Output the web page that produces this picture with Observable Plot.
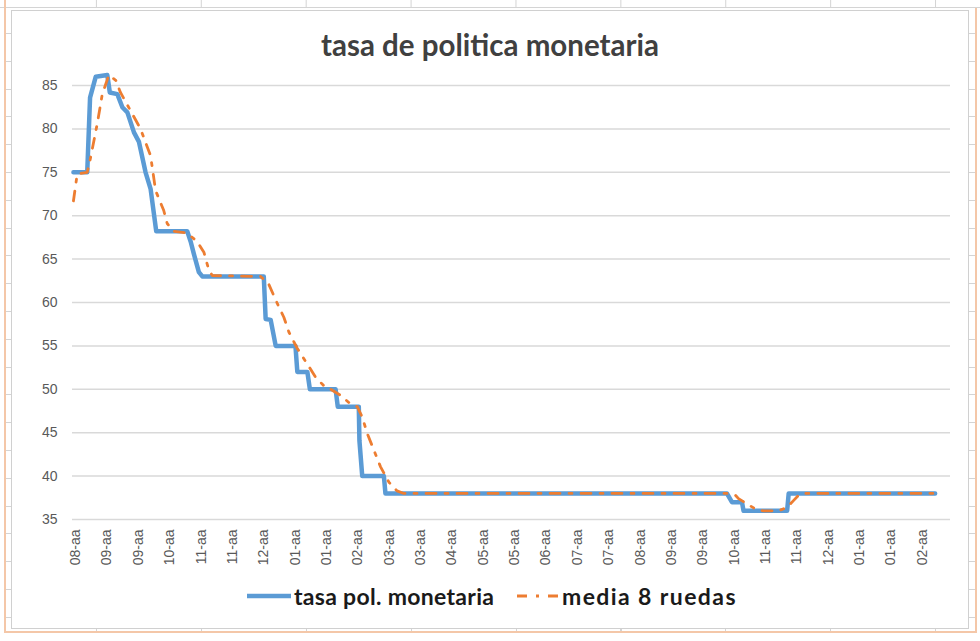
<!DOCTYPE html>
<html><head><meta charset="utf-8">
<script src="https://cdn.jsdelivr.net/npm/d3@7"></script>
<script src="https://cdn.jsdelivr.net/npm/@observablehq/plot@0.6"></script>
<style>
html,body{margin:0;padding:0;background:#fff;}
#page{position:relative;width:980px;height:641px;overflow:hidden;font-family:Lato,"Open Sans",sans-serif;background:#fff;}
.abs{position:absolute;}
#topline{left:0;top:7px;width:980px;height:1px;background:#d4d4d4;}
#topticks{left:0;top:0;width:980px;height:7px;background:repeating-linear-gradient(to right,transparent 0 96px,#d4d4d4 96px 97px,transparent 97px 104.9px);background-size:104.9px 7px;}
#lstrip{left:4px;top:10px;width:8px;height:618px;background:repeating-linear-gradient(to bottom,transparent 0 23px,#d4d4d4 23px 24px,transparent 24px 27.8px);}
#rstrip{left:968px;top:10px;width:8px;height:618px;background:repeating-linear-gradient(to bottom,transparent 0 23px,#d4d4d4 23px 24px,transparent 24px 27.8px);}
#btick{left:0;top:628px;width:980px;height:4px;background:repeating-linear-gradient(to right,transparent 0 96px,#d4d4d4 96px 97px,transparent 97px 104.9px);}
#oleft{left:4px;top:0;width:1.5px;height:633px;background:#f4c7a8;}
#oright{left:975px;top:8px;width:1.5px;height:625px;background:#f4c7a8;}
#obottom{left:4px;top:631px;width:972px;height:1.5px;background:#f4c7a8;}
#frame{left:11px;top:10px;width:956px;height:617px;border:1px solid #d0d0d0;background:#fff;}
#title{left:0;top:28px;width:980px;text-align:center;font-weight:700;font-size:29.5px;line-height:34px;color:#404040;}
#chart{left:0;top:60px;}
#legend{left:0;top:583px;width:980px;height:28px;}
.lg{position:absolute;top:-1px;font-weight:700;font-size:23px;line-height:28px;color:#1a1a1a;white-space:nowrap;}
</style></head><body>
<div id="page">
  <div id="topticks" class="abs"></div>
  <div id="topline" class="abs"></div>
  <div id="lstrip" class="abs"></div>
  <div id="rstrip" class="abs"></div>
  <div id="btick" class="abs"></div>
  <div id="oleft" class="abs"></div>
  <div id="oright" class="abs"></div>
  <div id="obottom" class="abs"></div>
  <div id="frame" class="abs"></div>
  <div id="title" class="abs">tasa de politica monetaria</div>
  <div id="chart" class="abs"></div>
  <div id="legend" class="abs">
    <svg class="abs" style="left:246px;top:6px" width="46" height="14"><line x1="1" y1="7" x2="45" y2="7" stroke="#5B9BD5" stroke-width="4.5"/></svg>
    <span class="lg" style="left:294px;letter-spacing:0.3px">tasa pol. monetaria</span>
    <svg class="abs" style="left:516px;top:6px" width="44" height="14"><line x1="1" y1="7" x2="43" y2="7" stroke="#ED7D31" stroke-width="3" stroke-dasharray="10 9 3 9"/></svg>
    <span class="lg" style="left:562px;letter-spacing:1.4px">media 8 ruedas</span>
  </div>
</div>
<script>
// x positions are expressed in units of x-axis label slots (0 = first label)
const xTickLabels = ["08-aa","09-aa","09-aa","10-aa","11-aa","11-aa","12-aa","01-aa","01-aa","02-aa","03-aa","03-aa","04-aa","05-aa","05-aa","06-aa","07-aa","07-aa","08-aa","09-aa","09-aa","10-aa","11-aa","11-aa","12-aa","01-aa","01-aa","02-aa"];
const yTicks = [35,40,45,50,55,60,65,70,75,80,85];

// tasa pol. monetaria
const policyX = [-0.07,0.37,0.46,0.64,1.01,1.09,1.33,1.49,1.65,1.86,2.02,2.23,2.39,2.57,3.56,3.67,3.77,3.93,4.04,6.00,6.06,6.22,6.38,7.01,7.07,7.39,7.47,8.29,8.36,9.03,9.05,9.14,9.83,9.88,20.77,20.93,21.25,21.30,22.69,22.74,27.41];
const policyY = [75,75,83.6,86,86.2,84.2,84,82.5,81.9,79.6,78.5,75,73.1,68.2,68.2,67,65.6,63.5,63,63,58.1,58,55,55,52,52,50,50,48,48,44.1,40,40,38,38,37,37,36,36,38,38];

// media 8 ruedas
const avgX = [-0.07,0.00,0.05,0.37,0.46,0.69,0.85,1.06,1.28,1.43,1.75,2.07,2.39,2.55,2.81,2.92,3.13,3.56,3.88,4.09,4.25,4.36,5.90,6.16,6.43,6.64,6.80,7.07,7.39,7.65,7.97,8.13,8.45,8.77,8.98,9.14,9.30,9.51,9.72,9.99,10.25,10.47,20.82,21.04,21.14,21.41,21.73,21.94,22.42,22.69,22.90,23.06,23.22,27.41];
const avgY = [71.7,73.5,74.8,75,76.4,80.6,84,86.2,85.6,84.2,82.1,80,76.9,72.9,70.6,69.1,68.2,68,67,65.8,63.7,63.1,63,62.1,59.9,58.3,56.6,54.7,52.9,51.4,50.2,50,49.3,48.3,48,46.8,44.9,43,41.1,39.3,38.3,38,38,37.8,37.4,36.8,36.1,36,36,36.4,37.2,37.8,38,38];

const policy = policyX.map((x,i)=>({x, y:policyY[i]}));
const avg = avgX.map((x,i)=>({x, y:avgY[i]}));

const chart = Plot.plot({
  width: 980, height: 520,
  marginLeft: 72, marginRight: 30, marginTop: 25, marginBottom: 61,
  x: {domain: [-0.1, 27.9]},
  y: {domain: [35, 85]},
  style: {fontFamily: "'Liberation Sans', Arial, sans-serif", fontSize: "14px", color: "#595959", background: "transparent", overflow: "visible"},
  marks: [
    Plot.ruleY(yTicks, {stroke: "#d9d9d9", strokeWidth: 1.5}),
    Plot.axisY({ticks: yTicks, tickSize: 0, tickPadding: 15, label: null}),
    Plot.axisX({ticks: d3.range(xTickLabels.length), tickFormat: i => xTickLabels[i], tickRotate: -90, tickSize: 0, tickPadding: 10, label: null}),
    Plot.line(policy, {x: "x", y: "y", stroke: "#5B9BD5", strokeWidth: 4.5, strokeLinejoin: "round"}),
    Plot.line(avg, {x: "x", y: "y", stroke: "#ED7D31", strokeWidth: 2.8, strokeDasharray: "10 9 3 9"})
  ]
});
document.getElementById("chart").appendChild(chart);
</script>
</body></html>
